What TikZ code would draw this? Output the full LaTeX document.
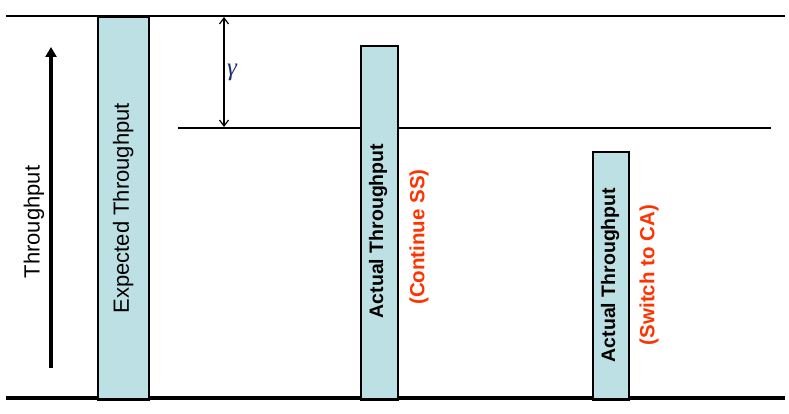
\documentclass[tikz,border=0pt]{standalone}
\usepackage{fontspec}
\setmainfont{Liberation Sans}
\newfontfamily\gamfont{Liberation Serif}
\usetikzlibrary{arrows.meta}
\definecolor{barfill}{HTML}{BCE0E3}
\definecolor{lblred}{HTML}{FF3300}
\definecolor{gamcol}{HTML}{1A3070}
\begin{document}
\begin{tikzpicture}[x=1pt,y=-1pt,
  bar/.style={draw=black, line width=2.5pt, fill=barfill, inner sep=0pt, anchor=north west},
  hline/.style={draw=black, line width=2.2pt},
  bartext/.style={rotate=90, font=\fontsize{22}{24}\selectfont, inner sep=0pt},
  acttext/.style={rotate=90, font=\bfseries\fontsize{19.5}{22}\selectfont, inner sep=0pt},
  redtext/.style={rotate=90, font=\bfseries\fontsize{20.5}{22}\selectfont, text=lblred, inner sep=0pt}]
\useasboundingbox (0,0) rectangle (789,414);
% reference lines
\coordinate (tl) at (6,16);
\coordinate (tr) at (785,16);
\coordinate (ml) at (178,128);
\coordinate (mr) at (771,128);
\coordinate (bl) at (6,398);
\coordinate (br) at (785,398);
\draw[hline] (tl) -- (tr);
\draw[hline] (ml) -- (mr);
\draw[draw=black, line width=4.5pt] (bl) -- (br);
% bars
\node[bar, minimum width=51pt, minimum height=382pt] (exp) at (96.5,16) {};
\node[bar, minimum width=37pt, minimum height=353pt] (act1) at (359.5,45) {};
\node[bar, minimum width=36pt, minimum height=247pt] (act2) at (591.5,151) {};
\node[bartext] (expt) at (exp.center) {Expected Throughput};
\node[acttext] (a1t) at (378,231) {Actual Throughput};
\node[acttext] (a2t) at (610,275) {Actual Throughput};
\node[redtext] (r1) at (419,237) {(Continue SS)};
\node[redtext] (r2) at (649,275) {(Switch to CA)};
% gamma
\coordinate (gt) at (224,17);
\coordinate (gb) at (224,127);
\draw[line width=1.2pt, {Straight Barb[length=6pt,width=9pt]}-{Straight Barb[length=6pt,width=9pt]}] (gt) -- (gb);
\node[text=gamcol, font=\gamfont\itshape\fontsize{25}{26}\selectfont, inner sep=0pt] (gam) at (232,72) {γ};
% throughput axis
\coordinate (ab) at (51,368);
\coordinate (at) at (51,47);
\draw[line width=3.5pt, -{Triangle[length=10pt,width=11pt]}] (ab) -- (at);
\node[bartext] (thr) at (34,222) {Throughput};
\end{tikzpicture}
\end{document}
